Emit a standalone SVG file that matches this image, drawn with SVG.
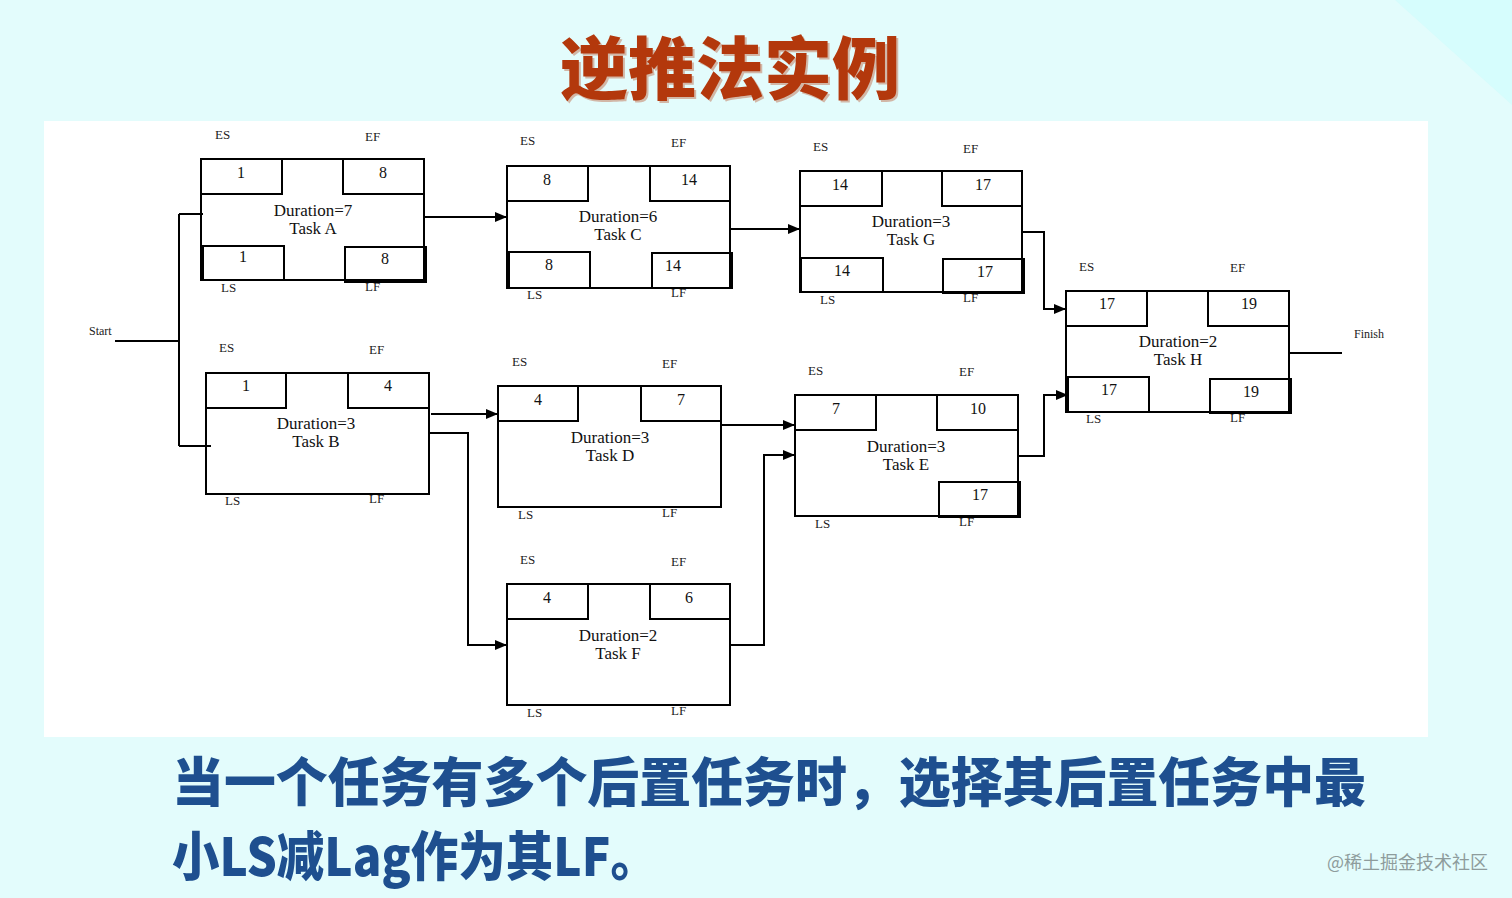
<svg xmlns="http://www.w3.org/2000/svg" width="1512" height="898" viewBox="0 0 1512 898">
<defs>
<marker id="arr" markerWidth="12" markerHeight="10" refX="11" refY="5" orient="auto" markerUnits="userSpaceOnUse">
<path d="M0,0 L12,5 L0,10 Z" fill="#000"/>
</marker>
</defs>
<style>
.box{fill:none;stroke:#000;stroke-width:2}
.c{fill:none;stroke:#000;stroke-width:2}
.lab{font-family:"Liberation Serif",serif;font-size:13px;fill:#222}
.val{font-family:"Liberation Serif",serif;font-size:16px;fill:#111;text-anchor:middle}
.mid{font-family:"Liberation Serif",serif;font-size:17px;fill:#111;text-anchor:middle}
.title{font-family:"Noto Sans CJK SC","Noto Sans CJK JP",sans-serif;font-weight:900;font-size:68px;fill:#b3380c}
.note{font-family:"Noto Sans CJK SC","Noto Sans CJK JP",sans-serif;font-weight:900;font-size:53px;fill:#1e4f8f}
</style>
<rect x="0" y="0" width="1512" height="898" fill="#e3fcfc"/>
<polygon points="1395,0 1512,0 1512,105" fill="#d6fdfd"/>
<rect x="44" y="121" width="1384" height="616" fill="#ffffff"/>
<text x="730" y="94" class="title" text-anchor="middle" fill="#e8a070" opacity="0.35" transform="translate(2,2)">逆推法实例</text>
<text x="730" y="94" class="title" text-anchor="middle">逆推法实例</text>

<g id="connectors">
<text x="89" y="335" class="lab" style="font-size:12px">Start</text>
<path class="c" d="M115,341 H179 M179,214 V446 M179,214 H203 M179,446 H211"/>
<path class="c" d="M424,217 H506" marker-end="url(#arr)"/>
<path class="c" d="M730,229 H799" marker-end="url(#arr)"/>
<path class="c" d="M1022,232 H1044 V309 H1065" marker-end="url(#arr)"/>
<path class="c" d="M431,414 H497" marker-end="url(#arr)"/>
<path class="c" d="M429,433 H468 V645 H506" marker-end="url(#arr)"/>
<path class="c" d="M721,425 H794" marker-end="url(#arr)"/>
<path class="c" d="M730,645 H764 V455 H794" marker-end="url(#arr)"/>
<path class="c" d="M1018,456 H1044 V395 H1067" marker-end="url(#arr)"/>
<path class="c" d="M1289,353 H1342"/>
<text x="1354" y="338" class="lab" style="font-size:12px">Finish</text>
</g>

<g id="taskA">
<rect class="box" x="201" y="159" width="223" height="121"/>
<rect class="box" x="201" y="159" width="81" height="35"/>
<rect class="box" x="343" y="159" width="81" height="35"/>
<rect class="box" x="203" y="246" width="81" height="34"/>
<rect class="box" x="345" y="247" width="81" height="35"/>
<text class="lab" x="215" y="139">ES</text><text class="lab" x="365" y="141">EF</text>
<text class="lab" x="221" y="292">LS</text><text class="lab" x="365" y="291">LF</text>
<text class="val" x="241" y="178">1</text><text class="val" x="383" y="178">8</text>
<text class="val" x="243" y="262">1</text><text class="val" x="385" y="264">8</text>
<text class="mid" x="313" y="216">Duration=7</text><text class="mid" x="313" y="234">Task A</text>
</g>

<g id="taskC">
<rect class="box" x="507" y="166" width="223" height="122"/>
<rect class="box" x="507" y="166" width="81" height="35"/>
<rect class="box" x="650" y="166" width="80" height="35"/>
<rect class="box" x="509" y="252" width="81" height="36"/>
<rect class="box" x="652" y="253" width="80" height="35"/>
<text class="lab" x="520" y="145">ES</text><text class="lab" x="671" y="147">EF</text>
<text class="lab" x="527" y="299">LS</text><text class="lab" x="671" y="297">LF</text>
<text class="val" x="547" y="185">8</text><text class="val" x="689" y="185">14</text>
<text class="val" x="549" y="270">8</text><text class="val" x="673" y="271">14</text>
<text class="mid" x="618" y="222">Duration=6</text><text class="mid" x="618" y="240">Task C</text>
</g>

<g id="taskG">
<rect class="box" x="800" y="171" width="222" height="121"/>
<rect class="box" x="800" y="171" width="82" height="35"/>
<rect class="box" x="942" y="171" width="80" height="35"/>
<rect class="box" x="801" y="258" width="82" height="34"/>
<rect class="box" x="943" y="259" width="81" height="34"/>
<text class="lab" x="813" y="151">ES</text><text class="lab" x="963" y="153">EF</text>
<text class="lab" x="820" y="304">LS</text><text class="lab" x="963" y="302">LF</text>
<text class="val" x="840" y="190">14</text><text class="val" x="983" y="190">17</text>
<text class="val" x="842" y="276">14</text><text class="val" x="985" y="277">17</text>
<text class="mid" x="911" y="227">Duration=3</text><text class="mid" x="911" y="245">Task G</text>
</g>

<g id="taskH">
<rect class="box" x="1066" y="291" width="223" height="121"/>
<rect class="box" x="1066" y="291" width="81" height="35"/>
<rect class="box" x="1208" y="291" width="81" height="35"/>
<rect class="box" x="1068" y="377" width="81" height="35"/>
<rect class="box" x="1210" y="379" width="81" height="34"/>
<text class="lab" x="1079" y="271">ES</text><text class="lab" x="1230" y="272">EF</text>
<text class="lab" x="1086" y="423">LS</text><text class="lab" x="1230" y="422">LF</text>
<text class="val" x="1107" y="309">17</text><text class="val" x="1249" y="309">19</text>
<text class="val" x="1109" y="395">17</text><text class="val" x="1251" y="397">19</text>
<text class="mid" x="1178" y="347">Duration=2</text><text class="mid" x="1178" y="365">Task H</text>
</g>

<g id="taskB">
<rect class="box" x="206" y="373" width="223" height="121"/>
<rect class="box" x="206" y="373" width="80" height="35"/>
<rect class="box" x="348" y="373" width="81" height="35"/>
<text class="lab" x="219" y="352">ES</text><text class="lab" x="369" y="354">EF</text>
<text class="lab" x="225" y="505">LS</text><text class="lab" x="369" y="503">LF</text>
<text class="val" x="246" y="391">1</text><text class="val" x="388" y="391">4</text>
<text class="mid" x="316" y="429">Duration=3</text><text class="mid" x="316" y="447">Task B</text>
</g>

<g id="taskD">
<rect class="box" x="498" y="386" width="223" height="121"/>
<rect class="box" x="498" y="386" width="80" height="35"/>
<rect class="box" x="641" y="386" width="80" height="35"/>
<text class="lab" x="512" y="366">ES</text><text class="lab" x="662" y="368">EF</text>
<text class="lab" x="518" y="519">LS</text><text class="lab" x="662" y="517">LF</text>
<text class="val" x="538" y="405">4</text><text class="val" x="681" y="405">7</text>
<text class="mid" x="610" y="443">Duration=3</text><text class="mid" x="610" y="461">Task D</text>
</g>

<g id="taskE">
<rect class="box" x="795" y="395" width="223" height="121"/>
<rect class="box" x="795" y="395" width="81" height="35"/>
<rect class="box" x="937" y="395" width="81" height="35"/>
<rect class="box" x="939" y="482" width="81" height="35"/>
<text class="lab" x="808" y="375">ES</text><text class="lab" x="959" y="376">EF</text>
<text class="lab" x="815" y="528">LS</text><text class="lab" x="959" y="526">LF</text>
<text class="val" x="836" y="414">7</text><text class="val" x="978" y="414">10</text>
<text class="val" x="980" y="500">17</text>
<text class="mid" x="906" y="452">Duration=3</text><text class="mid" x="906" y="470">Task E</text>
</g>

<g id="taskF">
<rect class="box" x="507" y="584" width="223" height="121"/>
<rect class="box" x="507" y="584" width="81" height="35"/>
<rect class="box" x="650" y="584" width="80" height="35"/>
<text class="lab" x="520" y="564">ES</text><text class="lab" x="671" y="566">EF</text>
<text class="lab" x="527" y="717">LS</text><text class="lab" x="671" y="715">LF</text>
<text class="val" x="547" y="603">4</text><text class="val" x="689" y="603">6</text>
<text class="mid" x="618" y="641">Duration=2</text><text class="mid" x="618" y="659">Task F</text>
</g>

<text x="172" y="802" class="note" textLength="1194" lengthAdjust="spacingAndGlyphs">当一个任务有多个后置任务时，选择其后置任务中最</text>
<text x="172" y="876" class="note" textLength="486" lengthAdjust="spacingAndGlyphs">小LS减Lag作为其LF。</text>
<text x="1327" y="869" font-family="Noto Sans CJK SC, sans-serif" font-size="18" fill="#8e9c9c">@稀土掘金技术社区</text>
</svg>
